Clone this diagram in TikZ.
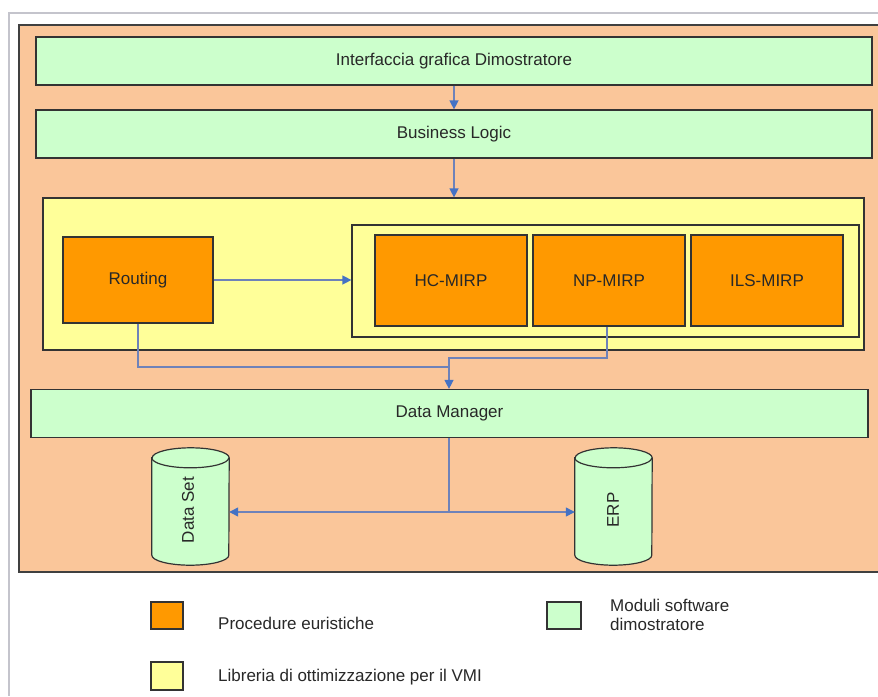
\documentclass[tikz,border=0pt]{standalone}
\usepackage{fontspec}
\setmainfont{Liberation Sans}
\usetikzlibrary{arrows.meta}
\definecolor{peach}{RGB}{250,198,154}
\definecolor{mgreen}{RGB}{204,255,204}
\definecolor{myellow}{RGB}{255,255,153}
\definecolor{morange}{RGB}{255,153,0}
\definecolor{lineblue}{RGB}{110,130,185}
\definecolor{tipblue}{RGB}{68,114,196}
\definecolor{framegray}{RGB}{196,196,204}
\definecolor{txt}{RGB}{40,40,40}
\tikzset{
  boxbase/.style={draw=black!80, line width=1.2pt, inner sep=0pt, text=txt, font=\fontsize{17}{20}\selectfont},
  gbox/.style={boxbase, fill=mgreen},
  obox/.style={boxbase, fill=morange},
  ybox/.style={boxbase, fill=myellow},
  conn/.style={draw=lineblue, line width=1.3pt},
  tip/.style={-{Triangle[length=9pt,width=9pt,color=tipblue]}},
  cylname/.style={inner sep=0pt, minimum width=77pt, minimum height=117pt},
  cylshape/.style={draw=black!80, line width=1.2pt, fill=mgreen},
  legtext/.style={text=txt, font=\fontsize{17}{20}\selectfont, inner sep=0pt},
}
\begin{document}
\begin{tikzpicture}[x=1pt,y=-1pt]
\useasboundingbox (0,0) rectangle (878,696);
\fill[white] (0,0) rectangle (878,696);
% outer gray frame
\draw[framegray, line width=2.5pt] (8,13) -- (878,13);
\draw[framegray, line width=2.5pt] (9,13) -- (9,696);
% peach area
\fill[peach] (19,25) rectangle (885,572);
\draw[black!75, line width=1.4pt] (885,25) -- (19,25) -- (19,572) -- (885,572);

% boxes
\node[gbox, minimum width=836pt, minimum height=48pt] (ib) at (454,61) {Interfaccia grafica Dimostratore};
\node[gbox, minimum width=836pt, minimum height=48pt] (bl) at (454,134) {Business Logic};
\node[ybox, minimum width=821pt, minimum height=152pt] (lib) at (453.5,274) {};
\node[ybox, minimum width=507pt, minimum height=112pt] (fr) at (605.5,281) {};
\node[obox, minimum width=150pt, minimum height=86pt] (rt) at (138,280) {Routing};
\node[obox, minimum width=152pt, minimum height=91pt] (hc) at (451,280.5) {HC-MIRP};
\node[obox, minimum width=152pt, minimum height=91pt] (np) at (609,280.5) {NP-MIRP};
\node[obox, minimum width=152pt, minimum height=91pt] (ils) at (767,280.5) {ILS-MIRP};
\node[gbox, minimum width=837pt, minimum height=48pt] (dm) at (449.5,413.5) {Data Manager};

% cylinders
\node[cylname] (ds) at (190.5,506.5) {};
\node[cylname] (erp) at (613.5,506.5) {};
\foreach \c in {ds,erp}{
  \draw[cylshape] ([yshift=-10pt]\c.north west) -- ([yshift=10pt]\c.south west)
    arc[start angle=180,end angle=360,x radius=38.5pt,y radius=10pt]
    -- ([yshift=-10pt]\c.north east)
    arc[start angle=0,end angle=180,x radius=38.5pt,y radius=10pt] -- cycle;
  \draw[black!80, line width=1.2pt] ([yshift=-10pt]\c.north west)
    arc[start angle=180,end angle=360,x radius=38.5pt,y radius=10pt];
}
\node[legtext, rotate=90] (dsl) at (188,510) {Data Set};
\node[legtext, rotate=90] (erpl) at (613,510) {ERP};

% connectors
\coordinate (j1) at (449,358);
\coordinate (j2) at (449,367);
\coordinate (j3) at (449,512);
\draw[conn, tip] (ib.south) -- (bl.north);
\draw[conn, tip] (bl.south) -- (bl.south |- lib.north);
\draw[conn, tip] (rt.east) -- (rt.east -| fr.west);
\draw[conn] (rt.south) |- (j2);
\draw[conn, tip] ([xshift=-2pt]np.south) |- (j1) -- (j1 |- dm.north);
\draw[conn] (j1 |- dm.south) -- (j3);
\draw[conn, tip] (j3) -- (j3 -| ds.east);
\draw[conn, tip] (j3) -- (j3 -| erp.west);

% legend
\node[obox, minimum width=32pt, minimum height=27pt] (lo) at (167,615.5) {};
\node[ybox, minimum width=32pt, minimum height=28pt] (ly) at (167,676) {};
\node[gbox, minimum width=34pt, minimum height=27pt] (lg) at (564,615.5) {};
\node[legtext, anchor=base west] (lot) at (218,629) {Procedure euristiche};
\node[legtext, anchor=base west] (lyt) at (218,681) {Libreria di ottimizzazione per il VMI};
\node[legtext, anchor=base west, align=left] (lgt1) at (610,611) {Moduli software};
\node[legtext, anchor=base west, align=left] (lgt2) at (610,630) {dimostratore};
\end{tikzpicture}
\end{document}
